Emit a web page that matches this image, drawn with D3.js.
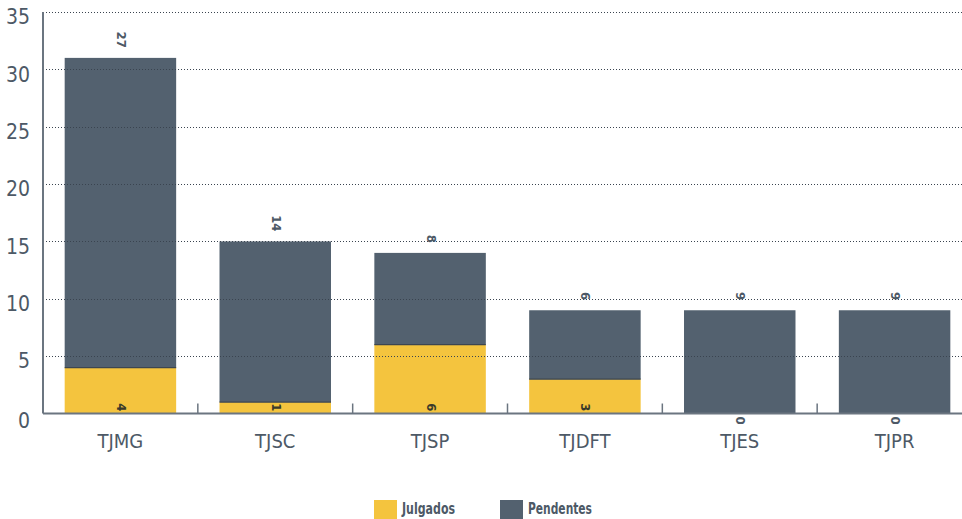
<!DOCTYPE html>
<html lang="pt">
<head>
<meta charset="UTF-8">
<title>Julgados x Pendentes</title>
<script src="https://d3js.org/d3.v7.min.js"></script>
<style>
  body { margin: 0; background: #fff; }
  svg { display: block; }
  .tick-y, .tick-x { font-family: "DejaVu Sans Condensed", sans-serif; fill: #4d5966; }
  .lbl { font-family: "DejaVu Sans Condensed", sans-serif; font-weight: bold; font-size: 13px; }
  .legend_text { font-family: "DejaVu Sans Condensed", sans-serif; font-weight: bold; font-size: 15px; fill: #4d5966; }
</style>
</head>
<body>
<svg width="962" height="519"></svg>
<script>
  // data
  const tribunais = ["TJMG", "TJSC", "TJSP", "TJDFT", "TJES", "TJPR"];
  const julgados  = [4, 1, 6, 3, 0, 0];
  const pendentes = [27, 14, 8, 6, 9, 9];
  const yTicks = [0, 5, 10, 15, 20, 25, 30, 35];
  const series = ["Julgados", "Pendentes"];
  const colors = ["#f4c43e", "#53616f"];

  const svg = d3.select("svg");
  const mLeft = 43, mRight = 972, mTop = 12, mBottom = 413.5;

  const x = d3.scaleBand().domain(tribunais).range([mLeft, mRight]).paddingInner(0.28).paddingOuter(0.14);
  const y = d3.scaleLinear().domain([0, 35]).range([mBottom, mTop]);

  const rows = tribunais.map((t, i) => ({ t: t, Julgados: julgados[i], Pendentes: pendentes[i] }));
  const stack = d3.stack().keys(series)(rows);

  // bars
  svg.append("g").selectAll("g")
    .data(stack).join("g")
    .attr("fill", (d, i) => colors[i])
    .selectAll("rect")
    .data(d => d).join("rect")
    .attr("x", d => x(d.data.t))
    .attr("width", x.bandwidth())
    .attr("y", d => y(d[1]))
    .attr("height", d => y(d[0]) - y(d[1]));

  // thin line between segments
  svg.append("g").selectAll("line")
    .data(rows.filter(d => d.Julgados > 0)).join("line")
    .attr("x1", d => x(d.t)).attr("x2", d => x(d.t) + x.bandwidth())
    .attr("y1", d => y(d.Julgados)).attr("y2", d => y(d.Julgados))
    .attr("stroke", "#3d4650").attr("stroke-width", 1.2);

  // dotted gridlines on top of bars
  svg.append("g").selectAll("line")
    .data(yTicks.filter(v => v > 0)).join("line")
    .attr("x1", mLeft).attr("x2", 962)
    .attr("y1", d => Math.round(y(d)) + 0.5).attr("y2", d => Math.round(y(d)) + 0.5)
    .attr("stroke", "#3a4450").attr("stroke-width", 1)
    .attr("stroke-dasharray", "1,2");

  // axes lines
  svg.append("line").attr("x1", mLeft).attr("x2", mLeft).attr("y1", mTop).attr("y2", mBottom)
    .attr("stroke", "#6b7580").attr("stroke-width", 2);
  svg.append("line").attr("x1", mLeft).attr("x2", 962).attr("y1", mBottom).attr("y2", mBottom)
    .attr("stroke", "#6b7580").attr("stroke-width", 2);

  // category separators
  const step = x.step();
  svg.append("g").selectAll("line")
    .data(tribunais.slice(1)).join("line")
    .attr("x1", d => x(d) - step * x.paddingInner() / 2)
    .attr("x2", d => x(d) - step * x.paddingInner() / 2)
    .attr("y1", mBottom).attr("y2", mBottom - 10)
    .attr("stroke", "#6b7580").attr("stroke-width", 1.5);

  // y tick labels
  svg.append("g").selectAll("text")
    .data(yTicks).join("text")
    .attr("class", "tick-y")
    .attr("x", 30).attr("y", d => y(d) + (d === 0 ? 7 : 5))
    .attr("dy", "0.35em")
    .attr("text-anchor", "end")
    .attr("font-size", 21)
    .text(d => d);

  // x labels
  svg.append("g").selectAll("text")
    .data(tribunais).join("text")
    .attr("class", "tick-x")
    .attr("x", d => x(d) + x.bandwidth() / 2).attr("y", 448)
    .attr("text-anchor", "middle")
    .attr("font-size", 20)
    .text(d => d);

  // value labels, rotated
  const cx = d => x(d.t) + x.bandwidth() / 2;
  svg.append("g").selectAll("text")
    .data(rows).join("text")
    .attr("class", "lbl")
    .attr("fill", "#4d5966")
    .attr("text-anchor", "end")
    .attr("dominant-baseline", "middle")
    .attr("transform", d => `translate(${cx(d)},${y(d.Julgados + d.Pendentes) - 10}) rotate(90)`)
    .text(d => d.Pendentes);

  svg.append("g").selectAll("text")
    .data(rows).join("text")
    .attr("class", "lbl")
    .attr("fill", d => d.Julgados > 0 ? "#3a3a2a" : "#4d5966")
    .attr("text-anchor", d => d.Julgados > 0 ? "end" : "start")
    .attr("dominant-baseline", "middle")
    .attr("transform", d => `translate(${cx(d)},${d.Julgados > 0 ? mBottom - 2 : mBottom + 3}) rotate(90)`)
    .text(d => d.Julgados);

  // legend
  const legX = [374, 500];
  const legW = [53, 64];
  const leg = svg.append("g").selectAll("g")
    .data(series).join("g")
    .attr("transform", (d, i) => `translate(${legX[i]},500)`);
  leg.append("rect").attr("width", 23).attr("height", 19).attr("fill", (d, i) => colors[i]);
  leg.append("text").attr("class", "legend_text").attr("x", 28).attr("y", 14)
    .attr("textLength", (d, i) => legW[i]).attr("lengthAdjust", "spacingAndGlyphs")
    .text(d => d);
</script>
</body>
</html>
